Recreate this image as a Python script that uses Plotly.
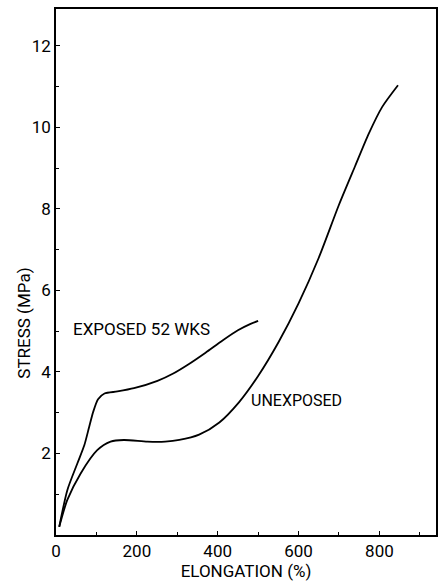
import plotly.graph_objects as go

# Data (elongation %, stress MPa)
exposed_x = [8, 28, 53, 70, 82, 92, 104, 120, 152, 193, 251, 290, 330, 370, 412, 450, 480, 500]
exposed_y = [0.2, 1.1, 1.76, 2.2, 2.65, 3.02, 3.33, 3.47, 3.52, 3.6, 3.78, 3.96, 4.2, 4.47, 4.77, 5.02, 5.17, 5.25]

unexposed_x = [8, 28, 61, 102, 135, 168, 226, 270, 305, 354, 404, 453, 500, 550, 600, 650, 700, 740, 774, 807, 846]
unexposed_y = [0.2, 0.86, 1.51, 2.08, 2.29, 2.33, 2.29, 2.29, 2.33, 2.46, 2.76, 3.26, 3.9, 4.72, 5.68, 6.8, 8.1, 9.05, 9.85, 10.5, 11.03]

x_ticks = [0, 200, 400, 600, 800]
y_ticks = [2, 4, 6, 8, 10, 12]

FONT = "Roboto, Liberation Sans, sans-serif"

fig = go.Figure()
fig.add_trace(go.Scatter(x=exposed_x, y=exposed_y, mode="lines",
                         line=dict(color="black", width=1.8, shape="spline", smoothing=0.7),
                         showlegend=False))
fig.add_trace(go.Scatter(x=unexposed_x, y=unexposed_y, mode="lines",
                         line=dict(color="black", width=1.8, shape="spline", smoothing=0.7),
                         showlegend=False))

fig.add_annotation(x=38, y=5.05, text="EXPOSED 52 WKS", showarrow=False,
                   xanchor="left", yanchor="middle",
                   font=dict(family=FONT, size=17, color="black"))
fig.add_annotation(x=478, y=3.29, text="UNEXPOSED", showarrow=False,
                   xanchor="left", yanchor="middle",
                   font=dict(family=FONT, size=16, color="black"))
fig.add_annotation(xref="paper", yref="y", x=-0.085, y=5.2, text="STRESS (MPa)",
                   textangle=-90, showarrow=False, xanchor="center", yanchor="middle",
                   font=dict(family=FONT, size=17, color="black"))

fig.update_xaxes(range=[0, 940], tickvals=x_ticks, ticks="inside", ticklen=4,
                 tickcolor="black", showline=True, linecolor="black", linewidth=1.5,
                 mirror=True, showgrid=False, zeroline=False,
                 minor=dict(dtick=100, tick0=0, ticks="inside", ticklen=3, tickcolor="black"),
                 tickfont=dict(family=FONT, size=17, color="black"),
                 title=dict(text="ELONGATION (%)", standoff=2,
                            font=dict(family=FONT, size=17, color="black")))
fig.update_yaxes(range=[0, 12.9], tickvals=y_ticks, ticks="inside", ticklen=4,
                 tickcolor="black", showline=True, linecolor="black", linewidth=1.5,
                 mirror=True, showgrid=False, zeroline=False,
                 minor=dict(dtick=1, tick0=0, ticks="inside", ticklen=3, tickcolor="black"),
                 tickfont=dict(family=FONT, size=17, color="black"))

fig.update_layout(width=442, height=586, margin=dict(l=56, r=4, t=9, b=51),
                  paper_bgcolor="white", plot_bgcolor="white")

fig.write_html("out.html")
